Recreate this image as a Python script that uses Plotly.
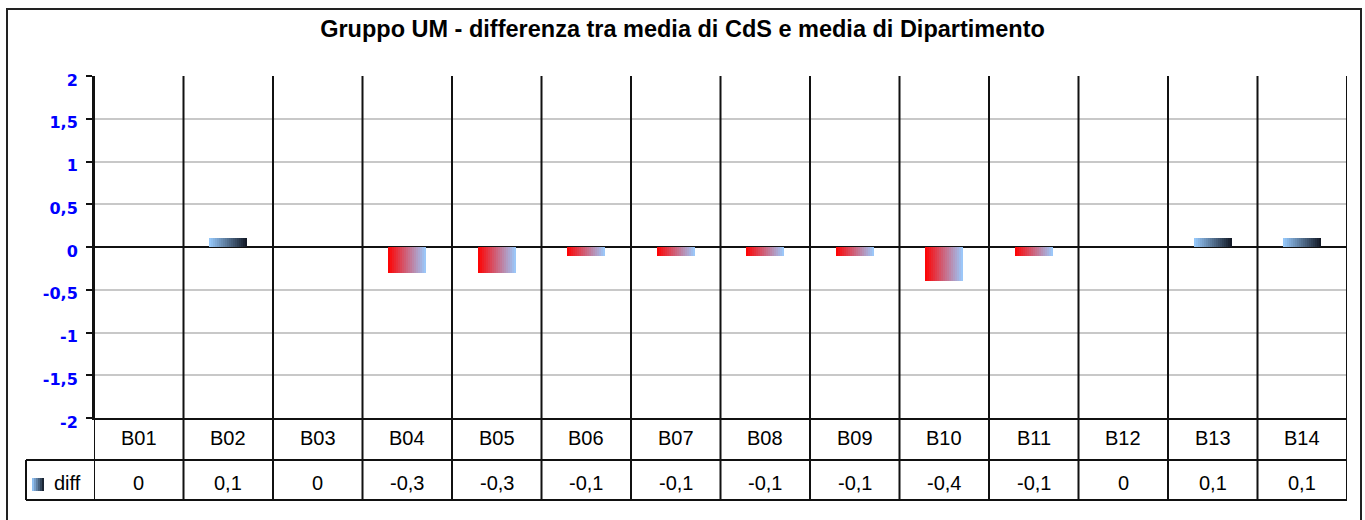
import plotly.graph_objects as go

# ---------------- data ----------------
categories = ["B01", "B02", "B03", "B04", "B05", "B06", "B07",
              "B08", "B09", "B10", "B11", "B12", "B13", "B14"]
diff_values = [0, 0.1, 0, -0.3, -0.3, -0.1, -0.1, -0.1, -0.1, -0.4, -0.1, 0, 0.1, 0.1]
value_labels = ["0", "0,1", "0", "-0,3", "-0,3", "-0,1", "-0,1",
                "-0,1", "-0,1", "-0,4", "-0,1", "0", "0,1", "0,1"]
series_name = "diff"
ytick_vals = [2, 1.5, 1, 0.5, 0, -0.5, -1, -1.5, -2]
ytick_text = ["2", "1,5", "1", "0,5", "0", "-0,5", "-1", "-1,5", "-2"]
title_text = "Gruppo UM - differenza tra media di CdS e media di Dipartimento"

# ---------------- layout geometry (pixels) ----------------
W, H = 1365, 520
PL, PR = 94, 1347          # plot area left / right
PT, PB = 76, 418           # plot area top / bottom
ROW1 = 460                 # bottom of category row
ROW2 = 500                 # bottom of value row
TL = 26                    # left of legend cell


def px_x(x):
    return x / W


def px_y(y):
    return (H - y) / H


POS_L, POS_R = (153, 204, 255), (16, 22, 34)
NEG_L, NEG_R = (255, 0, 0), (153, 204, 255)


def mix(a, b, t):
    return "rgb(%d,%d,%d)" % tuple(round(a[i] + (b[i] - a[i]) * t) for i in range(3))


fig = go.Figure()

N = 19
BW = 0.42
for k in range(N):
    t = (k + 0.5) / N
    cols = [mix(POS_L, POS_R, t) if v >= 0 else mix(NEG_L, NEG_R, t) for v in diff_values]
    fig.add_trace(go.Bar(
        x=categories, y=diff_values,
        width=[BW / N * 1.08] * len(categories),
        offset=[-BW / 2 + k * BW / N] * len(categories),
        marker=dict(color=cols, line=dict(width=0)),
        showlegend=False, hoverinfo="skip",
    ))

shapes = []
BLACK = "#111111"
# vertical table/grid lines at category boundaries
for i in range(len(categories) + 1):
    shapes.append(dict(type="line", xref="x", yref="paper",
                       x0=i - 0.5, x1=i - 0.5, y0=px_y(ROW2), y1=px_y(PT),
                       line=dict(color=BLACK, width=2), layer="above"))
# horizontal table lines
for yy in (ROW1, ROW2):
    shapes.append(dict(type="line", xref="paper", yref="paper",
                       x0=px_x(TL), x1=px_x(PR), y0=px_y(yy), y1=px_y(yy),
                       line=dict(color=BLACK, width=2), layer="above"))
shapes.append(dict(type="line", xref="paper", yref="paper",
                   x0=px_x(TL), x1=px_x(TL), y0=px_y(ROW2), y1=px_y(ROW1),
                   line=dict(color=BLACK, width=2), layer="above"))
# outer chart border
shapes.append(dict(type="rect", xref="paper", yref="paper",
                   x0=px_x(7), x1=px_x(1361), y0=px_y(540), y1=px_y(9),
                   line=dict(color="#222222", width=2), fillcolor="rgba(0,0,0,0)",
                   layer="above"))
# legend key (gradient square)
KX0, KX1, KY0, KY1 = 32, 44, 478, 491
NK = 6
for k in range(NK):
    t = (k + 0.5) / NK
    shapes.append(dict(type="rect", xref="paper", yref="paper",
                       x0=px_x(KX0 + (KX1 - KX0) * k / NK),
                       x1=px_x(KX0 + (KX1 - KX0) * (k + 1) / NK),
                       y0=px_y(KY1), y1=px_y(KY0),
                       line=dict(width=0), fillcolor=mix(POS_L, POS_R, t), layer="above"))

annotations = []
TFONT = dict(family="Liberation Sans, Arial, sans-serif", size=20, color="#000000")
for c, lab in zip(categories, value_labels):
    annotations.append(dict(x=c, xref="x", y=px_y((PB + ROW1) / 2 - 1), yref="paper",
                            text=c, showarrow=False, font=TFONT,
                            xanchor="center", yanchor="middle"))
    annotations.append(dict(x=c, xref="x", y=px_y((ROW1 + ROW2) / 2 + 3), yref="paper",
                            text=lab, showarrow=False, font=TFONT,
                            xanchor="center", yanchor="middle"))
annotations.append(dict(x=px_x(52), xref="paper", y=px_y((ROW1 + ROW2) / 2 + 3), yref="paper",
                        text=series_name, showarrow=False, font=TFONT,
                        xanchor="left", yanchor="middle"))

fig.update_layout(
    width=W, height=H, autosize=False,
    margin=dict(l=0, r=0, t=0, b=0, pad=0, autoexpand=False),
    paper_bgcolor="white", plot_bgcolor="white",
    separators=",.",
    barmode="overlay", bargap=0,
    title=dict(text="<b>" + title_text + "</b>", x=0.5, xanchor="center",
               y=px_y(29), yanchor="middle", yref="paper", automargin=False,
               font=dict(family="Liberation Sans, Arial, sans-serif", size=23.5, color="#000000")),
    xaxis=dict(domain=[px_x(PL), px_x(PR)], range=[-0.5, len(categories) - 0.5],
               type="category", showticklabels=False, ticks="", showgrid=False,
               zeroline=False, showline=True, linecolor=BLACK, linewidth=2,
               mirror=False, fixedrange=True, automargin=False),
    yaxis=dict(domain=[px_y(PB), px_y(PT)], range=[-2, 2],
               tickvals=ytick_vals, ticktext=ytick_text,
               ticks="outside", ticklen=6, tickwidth=2, tickcolor=BLACK,
               tickfont=dict(family="DejaVu Sans", size=16, color="#0000ff", weight="bold"),
               ticklabelstandoff=5, ticklabelshift=4,
               showgrid=True, gridcolor="#c8c8c8", gridwidth=2,
               zeroline=True, zerolinecolor=BLACK, zerolinewidth=2,
               showline=True, linecolor=BLACK, linewidth=2, fixedrange=True,
               automargin=False),
    shapes=shapes, annotations=annotations,
)

fig.write_html("out.html", config={"displayModeBar": False},
               post_script="document.body.style.margin='0';document.body.style.overflow='hidden';")
